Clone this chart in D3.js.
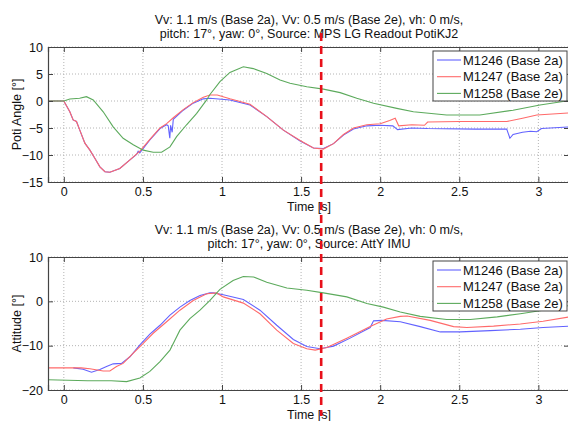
<!DOCTYPE html>
<html>
<head>
<meta charset="utf-8">
<script src="https://cdn.jsdelivr.net/npm/d3@7"></script>
<style>
  body { margin: 0; background: #fff; }
  svg { display: block; font-family: Arial, "Liberation Sans", sans-serif; }
</style>
</head>
<body>
<div id="chart"></div>
<script>
// series values, [time s, value]
const potiM1246 = [[-0.1,0],[0,0],[0.038,-2.0],[0.059,-3.5],[0.08,-3.8],[0.101,-5.4],[0.133,-7.8],[0.165,-9.1],[0.196,-10.6],[0.228,-12.2],[0.26,-13.1],[0.291,-13.2],[0.354,-12.5],[0.418,-10.9],[0.46,-9.9],[0.47,-9.3],[0.48,-9.6],[0.544,-7.2],[0.608,-5.1],[0.65,-4.4],[0.66,-4.6],[0.67,-6.9],[0.675,-4.5],[0.685,-5.8],[0.692,-3.4],[0.755,-1.7],[0.818,-0.4],[0.882,0.4],[0.924,0.5],[1.05,0.2],[1.177,-0.74],[1.283,-2.9],[1.388,-5.4],[1.494,-7.4],[1.578,-8.7],[1.641,-8.8],[1.705,-7.9],[1.768,-6.3],[1.831,-5.2],[1.916,-4.6],[2.0,-4.5],[2.08,-4.6],[2.11,-5.3],[2.2,-5.0],[2.3,-5.1],[2.6,-5.2],[2.8,-5.2],[2.82,-6.9],[2.84,-6.2],[2.9,-5.8],[2.95,-5.6],[2.99,-5.7],[3.02,-5.1],[3.2,-4.8]];
const potiM1247 = [[-0.1,0],[0,0],[0.038,-2.0],[0.059,-3.5],[0.08,-3.8],[0.101,-5.4],[0.133,-7.8],[0.165,-9.1],[0.196,-10.6],[0.228,-12.2],[0.26,-13.1],[0.291,-13.2],[0.354,-12.5],[0.418,-10.9],[0.481,-9.3],[0.544,-7.1],[0.608,-5.0],[0.65,-4.2],[0.692,-3.1],[0.755,-1.6],[0.818,-0.3],[0.882,0.7],[0.924,1.1],[0.97,1.1],[1.05,0.4],[1.177,-0.6],[1.283,-2.9],[1.388,-5.4],[1.494,-7.3],[1.578,-8.7],[1.641,-8.9],[1.705,-7.9],[1.768,-6.2],[1.831,-5.0],[1.916,-4.4],[2.0,-4.2],[2.06,-3.6],[2.095,-3.2],[2.117,-4.6],[2.2,-4.4],[2.28,-4.5],[2.3,-3.9],[2.5,-3.8],[2.8,-3.8],[2.9,-3.2],[2.99,-2.6],[3.2,-2.2]];
const potiM1258 = [[-0.1,0],[0,0],[0.038,0.37],[0.1,0.5],[0.143,0.8],[0.186,0.2],[0.249,-2.0],[0.312,-4.8],[0.375,-6.9],[0.439,-8.1],[0.502,-9.1],[0.565,-9.5],[0.618,-9.5],[0.671,-8.5],[0.713,-6.6],[0.776,-4.4],[0.84,-2.3],[0.903,0.2],[0.924,1.2],[0.987,3.6],[1.05,5.3],[1.135,6.35],[1.198,6.0],[1.283,5.1],[1.367,3.9],[1.43,3.3],[1.536,2.65],[1.641,2.2],[1.747,1.55],[1.852,0.5],[1.958,-0.43],[2.105,-1.36],[2.21,-2.0],[2.42,-2.6],[2.63,-2.6],[2.84,-1.7],[3.01,-0.74],[3.2,0.1]];

const attM1246 = [[0.06,-15.0],[0.122,-15.3],[0.175,-16.0],[0.228,-15.4],[0.27,-14.7],[0.312,-14.1],[0.365,-14.0],[0.418,-12.5],[0.481,-9.8],[0.544,-7.4],[0.608,-5.4],[0.671,-3.1],[0.734,-1.3],[0.797,0.2],[0.861,1.3],[0.924,1.9],[0.945,1.9],[1.008,1.5],[1.135,0.4],[1.24,-2.0],[1.346,-5.4],[1.451,-8.6],[1.536,-10.2],[1.62,-10.7],[1.705,-10.1],[1.81,-8.3],[1.937,-5.9],[1.958,-4.4],[2.01,-4.3],[2.127,-4.6],[2.253,-5.7],[2.38,-6.9],[2.506,-6.9],[2.696,-6.6],[2.886,-6.3],[3.03,-5.9],[3.2,-5.6]];
const attM1247 = [[-0.1,-15.0],[0.11,-15.0],[0.165,-15.2],[0.249,-15.7],[0.291,-15.7],[0.333,-14.7],[0.375,-14.0],[0.439,-11.7],[0.502,-9.5],[0.565,-7.2],[0.65,-4.6],[0.734,-2.0],[0.818,0.2],[0.903,1.7],[0.966,1.9],[1.008,1.0],[1.135,-0.4],[1.24,-2.8],[1.346,-6.5],[1.451,-9.5],[1.536,-10.7],[1.589,-11.0],[1.663,-10.4],[1.789,-8.3],[1.937,-5.7],[2.04,-4.0],[2.127,-3.4],[2.17,-3.3],[2.316,-4.3],[2.464,-5.7],[2.548,-5.9],[2.717,-5.6],[2.886,-5.1],[3.03,-4.5],[3.2,-3.5]];
const attM1258 = [[-0.1,-17.7],[0.15,-17.9],[0.3,-17.9],[0.397,-18.1],[0.481,-17.3],[0.544,-15.8],[0.608,-13.6],[0.671,-11.0],[0.703,-8.7],[0.734,-6.5],[0.797,-3.9],[0.861,-2.0],[0.924,0.2],[0.987,2.7],[1.07,4.7],[1.135,5.6],[1.2,5.5],[1.283,4.3],[1.41,3.0],[1.536,2.5],[1.641,1.9],[1.789,1.0],[1.916,-0.5],[2.02,-1.3],[2.127,-2.4],[2.253,-3.4],[2.42,-4.1],[2.57,-4.1],[2.74,-3.5],[2.886,-2.8],[3.03,-2.0],[3.2,-0.9]];

const seriesNames = ["M1246 (Base 2a)", "M1247 (Base 2a)", "M1258 (Base 2e)"];
const seriesColors = ["#6262ff", "#ff6a6a", "#5caa5c"];
const xTicks = [0, 0.5, 1, 1.5, 2, 2.5, 3];
const potiTicks = [-15, -10, -5, 0, 5, 10];
const attTicks = [-20, -10, 0, 10];
const markerTime = 1.627;

const titleTop = ["Vv: 1.1 m/s (Base 2a), Vv: 0.5 m/s (Base 2e), vh: 0 m/s,",
                  "pitch: 17°, yaw: 0°, Source: MPS LG Readout PotiKJ2"];
const titleBottom = ["Vv: 1.1 m/s (Base 2a), Vv: 0.5 m/s (Base 2e), vh: 0 m/s,",
                     "pitch: 17°, yaw: 0°, Source: AttY IMU"];

const width = 568, height = 421;
const svg = d3.select("#chart").append("svg").attr("width", width).attr("height", height);

const x = d3.scaleLinear().domain([-0.1, 3.2]).range([48, 570]);

function drawPanel(cfg) {
  const y = d3.scaleLinear().domain(cfg.domain).range([cfg.bottom, cfg.top]);
  const g = svg.append("g");

  // grid
  g.append("g").selectAll("line").data(xTicks).enter().append("line")
    .attr("x1", d => x(d)).attr("x2", d => x(d))
    .attr("y1", cfg.top).attr("y2", cfg.bottom)
    .attr("stroke", "#b4b4b4").attr("stroke-dasharray", "1,2");
  g.append("g").selectAll("line").data(cfg.ticks).enter().append("line")
    .attr("x1", x.range()[0]).attr("x2", x.range()[1])
    .attr("y1", d => y(d)).attr("y2", d => y(d))
    .attr("stroke", "#b4b4b4").attr("stroke-dasharray", "1,2");

  // data lines
  const line = d3.line().x(d => x(d[0])).y(d => y(d[1]));
  cfg.series.forEach((s, i) => {
    g.append("path").datum(s)
      .attr("fill", "none").attr("stroke", seriesColors[i])
      .attr("stroke-width", 1.1).attr("d", line);
  });

  // axes, MATLAB style ticks inside
  const axX = g.append("g").attr("transform", `translate(0,${cfg.bottom})`)
    .call(d3.axisBottom(x).tickValues(xTicks).tickSize(-5).tickPadding(5).tickFormat(d3.format("")));
  const axXt = g.append("g").attr("transform", `translate(0,${cfg.top})`)
    .call(d3.axisTop(x).tickValues(xTicks).tickSize(-5).tickFormat(""));
  const axY = g.append("g").attr("transform", `translate(${x.range()[0]},0)`)
    .call(d3.axisLeft(y).tickValues(cfg.ticks).tickSize(-5).tickPadding(5));
  const axYr = g.append("g").attr("transform", `translate(${x.range()[1] - 1},0)`)
    .call(d3.axisRight(y).tickValues(cfg.ticks).tickSize(-5).tickFormat(""));
  [axX, axXt, axY, axYr].forEach(a => {
    a.select(".domain").attr("stroke", "#444").attr("stroke-width", 1.2);
    a.selectAll(".tick line").attr("stroke", "#444");
    a.selectAll("text").attr("font-size", 12.5).attr("fill", "#111")
      .attr("font-family", "Arial, 'Liberation Sans', sans-serif");
  });

  // titles and labels
  const cx = (x.range()[0] + x.range()[1]) / 2;
  cfg.title.forEach((t, i) => {
    g.append("text").attr("x", cx).attr("y", cfg.top - 23 + i * 14)
      .attr("text-anchor", "middle").attr("font-size", 12.5).attr("fill", "#111").text(t);
  });
  g.append("text").attr("x", cx).attr("y", cfg.bottom + 28.5)
    .attr("text-anchor", "middle").attr("font-size", 12.5).attr("fill", "#111").text("Time [s]");
  g.append("text").attr("transform", `translate(21,${(cfg.top + cfg.bottom) / 2}) rotate(-90)`)
    .attr("text-anchor", "middle").attr("font-size", 12.5).attr("fill", "#111").text(cfg.ylabel);

  // legend
  const lg = g.append("g").attr("transform", `translate(433,${cfg.top + 4})`);
  lg.append("rect").attr("width", 134).attr("height", 50)
    .attr("fill", "#fff").attr("stroke", "#444");
  seriesNames.forEach((n, i) => {
    const yy = 9 + i * 16.7;
    lg.append("line").attr("x1", 4).attr("x2", 28).attr("y1", yy).attr("y2", yy)
      .attr("stroke", seriesColors[i]).attr("stroke-width", 1.1);
    lg.append("text").attr("x", 30).attr("y", yy + 4.5)
      .attr("font-size", 13).attr("fill", "#111").text(n);
  });
}

drawPanel({ top: 47, bottom: 182, domain: [-15, 10], ticks: potiTicks,
  series: [potiM1246, potiM1247, potiM1258], title: titleTop, ylabel: "Poti Angle [°]" });
drawPanel({ top: 257, bottom: 390, domain: [-20, 10], ticks: attTicks,
  series: [attM1246, attM1247, attM1258], title: titleBottom, ylabel: "Attitude [°]" });

// dashed marker spanning both panels
svg.append("line")
  .attr("x1", x(markerTime)).attr("x2", x(markerTime))
  .attr("y1", 33).attr("y2", 416)
  .attr("stroke", "#e8101a").attr("stroke-width", 2.6).attr("stroke-dasharray", "8,5");
</script>
</body>
</html>
